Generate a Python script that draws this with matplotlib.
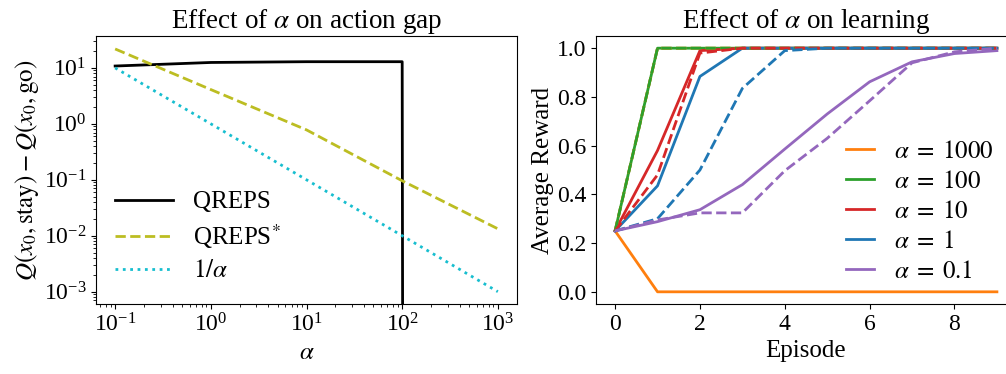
import numpy as np
import matplotlib
matplotlib.use("Agg")
import matplotlib.pyplot as plt

plt.rcParams['font.family'] = ['Liberation Serif', 'DejaVu Serif']
plt.rcParams['mathtext.fontset'] = 'stix'
plt.rcParams['font.size'] = 18
plt.rcParams['xtick.labelsize'] = 17
plt.rcParams['ytick.labelsize'] = 17

# left panel: action gap vs alpha
alphas = [0.1, 1, 10, 100, 1000]
gap_qreps = [10.8, 12.5, 12.9, 12.9, 0.0]
gap_qreps_star = [21.8, 4.1, 0.78, 0.096, 0.0133]
gap_inv_alpha = [10.0, 1.0, 0.1, 0.01, 0.001]

# right panel: average reward per episode
episodes = list(range(10))
alpha_labels = ['1000', '100', '10', '1', '0.1']
colors = ['#ff7f0e', '#2ca02c', '#d62728', '#1f77b4', '#9467bd']
reward_solid = [
    [0.25, 0, 0, 0, 0, 0, 0, 0, 0, 0],
    [0.25, 1.0, 1.0, 1.0, 1.0, 1.0, 1.0, 1.0, 1.0, 1.0],
    [0.25, 0.58, 0.99, 1.0, 1.0, 1.0, 1.0, 1.0, 1.0, 1.0],
    [0.25, 0.435, 0.884, 1.0, 1.0, 1.0, 1.0, 1.0, 1.0, 1.0],
    [0.25, 0.288, 0.337, 0.44, 0.586, 0.73, 0.862, 0.944, 0.978, 0.99],
]
reward_dashed = [
    [0.25, 1.0, 1.0, 1.0, 1.0, 1.0, 1.0, 1.0, 1.0, 1.0],
    [0.25, 1.0, 1.0, 1.0, 1.0, 1.0, 1.0, 1.0, 1.0, 1.0],
    [0.25, 0.48, 0.98, 1.0, 1.0, 1.0, 1.0, 1.0, 1.0, 1.0],
    [0.25, 0.30, 0.50, 0.835, 0.99, 1.0, 1.0, 1.0, 1.0, 1.0],
    [0.25, 0.295, 0.324, 0.324, 0.497, 0.63, 0.784, 0.94, 0.985, 1.0],
]

fig = plt.figure(figsize=(10.06, 3.74), dpi=100)
W, H = 1006, 374
ax1 = fig.add_axes([96 / W, 1 - 304 / H, (517 - 96) / W, (304 - 36) / H])
ax2 = fig.add_axes([596 / W, 1 - 304 / H, (1016 - 596) / W, (304 - 36) / H])

ax1.plot(alphas, gap_qreps, color='black', lw=2, label='QREPS')
ax1.plot(alphas, gap_qreps_star, color='#bcbd22', lw=2, ls='--', label='QREPS$^{*}$')
ax1.plot(alphas, gap_inv_alpha, color='#17becf', lw=2, ls=':', label=r'$1/\alpha$')
ax1.set_xscale('log')
ax1.set_yscale('log')
ax1.set_xlim(10 ** -1.2, 10 ** 3.2)
ax1.set_ylim(10 ** -3.22, 10 ** 1.57)
ax1.set_xlabel(r'$\alpha$')
ax1.set_ylabel(r'$Q(x_0, \mathrm{stay}) - Q(x_0, \mathrm{go})$', labelpad=2)
ax1.set_title(r'Effect of $\alpha$ on action gap', fontsize=19.5)
ax1.legend(loc='lower left', frameon=False, handlelength=2.3, handletextpad=0.8,
           labelspacing=0.35, bbox_to_anchor=(-0.008, -0.003))

for i in range(len(alpha_labels)):
    ax2.plot(episodes, reward_solid[i], color=colors[i], lw=2,
             label=r'$\alpha\;=\;%s$' % alpha_labels[i])
for i in range(len(alpha_labels)):
    ax2.plot(episodes, reward_dashed[i], color=colors[i], lw=2, ls='--')
ax2.set_xlim(-0.45, 9.45)
ax2.set_ylim(-0.05, 1.05)
ax2.set_xticks([0, 2, 4, 6, 8])
ax2.set_yticks([0.0, 0.2, 0.4, 0.6, 0.8, 1.0])
ax2.set_xlabel('Episode')
ax2.set_ylabel('Average Reward', labelpad=2)
ax2.set_title(r'Effect of $\alpha$ on learning', x=(806 - 596) / (1016 - 596),
              fontsize=19.5)
ax2.legend(loc='lower right', frameon=False, handlelength=1.1,
           bbox_to_anchor=(1.0, -0.005), labelspacing=0.3)

fig.savefig('out.png', dpi=100)
